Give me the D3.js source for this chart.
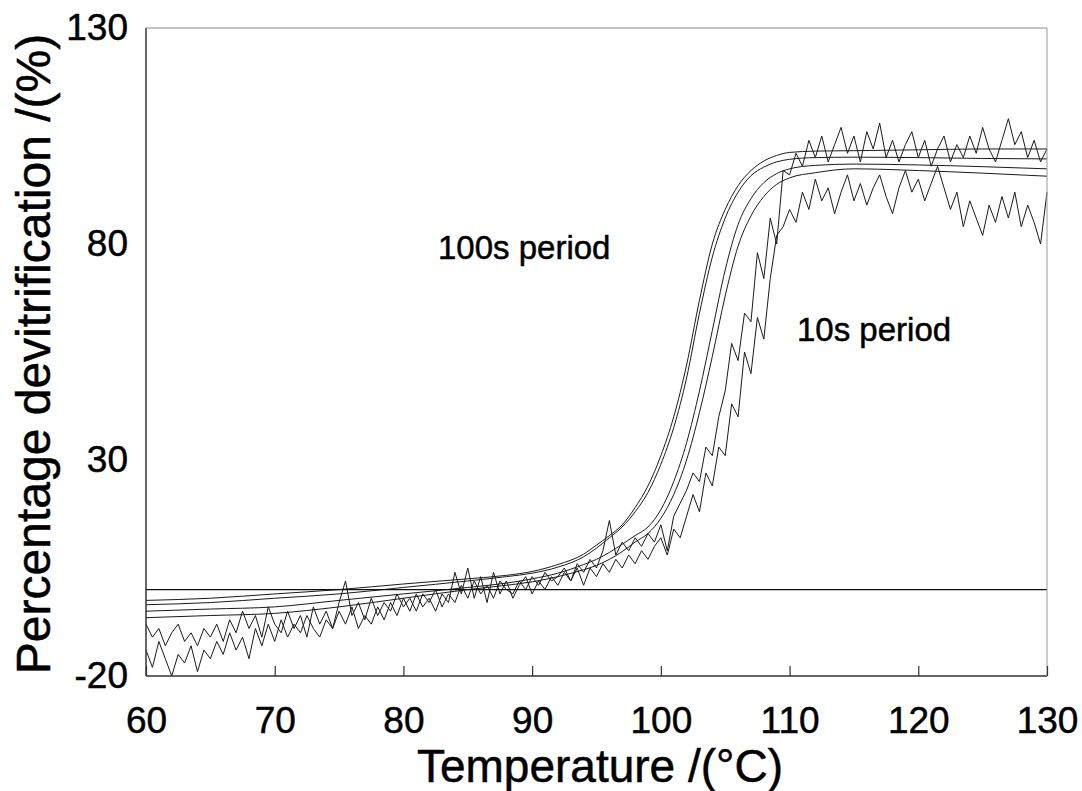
<!DOCTYPE html>
<html>
<head>
<meta charset="utf-8">
<style>
body { margin: 0; background: #fff; }
text { font-family: "Liberation Sans", Arial, sans-serif; fill: #000; stroke: #000; stroke-width: 0.5px; }
.curves path { fill: none; stroke: #1a1a1a; stroke-width: 1; }
</style>
</head>
<body>
<svg width="1082" height="791"></svg>
<script src="https://cdn.jsdelivr.net/npm/d3@7/dist/d3.min.js"></script>
<script>

// tick values
var xTicks = [60, 70, 80, 90, 100, 110, 120, 130];
var yTicks = [-20, 30, 80, 130];

// temperature grid of the smoothed (fitted) runs
var smoothT = [60, 65, 70, 75, 80, 85, 88, 90, 92, 94, 95, 96, 97, 98, 99, 100,
  101, 102, 103, 104, 105, 106, 107, 108, 109, 110, 112, 115, 120, 125, 130];

var run1 = [-2.5, -2, -1, 0, 1.3, 2.5, 3.3, 4.2, 5.8, 8.2, 10.3, 12.5, 15, 19, 24, 31,
  40, 52, 67, 80, 88, 93.5, 97, 99.2, 100.5, 101.2, 101.5, 101.6, 101.8, 102, 102];
var run2 = [-3.5, -3, -2, -1, 0.5, 2, 3, 3.8, 5.2, 7.6, 9.6, 12, 14.5, 18, 22.5, 29,
  37.5, 49, 64, 77, 86, 92, 95.8, 97.8, 99, 99.6, 100, 100.1, 100, 99.8, 99.7];
var run3 = [-5, -4.5, -4, -2.5, -1, 0.5, 1.5, 2.5, 3.8, 5.8, 7, 8.6, 10.5, 12.5, 14.5, 18.5,
  25, 34, 46, 60, 74, 84.5, 90.5, 94.2, 96.3, 97.4, 98.2, 98.5, 98.3, 97.9, 97.4];
var run4 = [-6.5, -6, -5.5, -4, -2, 0, 1, 1.8, 3, 4.6, 5.6, 7, 8.8, 11, 13, 16.5,
  22, 30, 41, 54, 68, 79.5, 86.5, 91, 93.8, 95.3, 96.5, 97.4, 97, 96.4, 95.7];

// temperature grid of the raw (noisy) 10 s runs
var rawT = [
  60, 60.5, 61, 61.5, 62, 62.5, 63, 63.5, 64, 64.5,
  65, 65.5, 66, 66.5, 67, 67.5, 68, 68.5, 69, 69.5,
  70, 70.5, 71, 71.5, 72, 72.5, 73, 73.5, 74, 74.5,
  75, 75.5, 76, 76.5, 77, 77.5, 78, 78.5, 79, 79.5,
  80, 80.5, 81, 81.5, 82, 82.5, 83, 83.5, 84, 84.5,
  85, 85.5, 86, 86.5, 87, 87.5, 88, 88.5, 89, 89.5,
  90, 90.5, 91, 91.5, 92, 92.5, 93, 93.5, 94, 94.5,
  95, 95.5, 96, 96.5, 97, 97.5, 98, 98.5, 99, 99.5,
  100, 100.5, 101, 101.5, 102, 102.5, 103, 103.5, 104, 104.5,
  105, 105.5, 106, 106.5, 107, 107.5, 108, 108.5, 109, 109.5,
  110, 110.5, 111, 111.5, 112, 112.5, 113, 113.5, 114, 114.5,
  115, 115.5, 116, 116.5, 117, 117.5, 118, 118.5, 119, 119.5,
  120, 120.5, 121, 121.5, 122, 122.5, 123, 123.5, 124, 124.5,
  125, 125.5, 126, 126.5, 127, 127.5, 128, 128.5, 129, 129.5,
  130];

var raw1 = [
  -8, -11, -9, -13, -10, -8, -12, -10, -13, -9,
  -11, -8, -12, -7, -10, -5, -9, -6, -11, -4,
  -8, -10, -5, -9, -6, -11, -4, -8, -5, -9,
  -3, 2, -6, -3, -7, -2, -6, -3, -5, -1,
  -4, -2, -5, -1, -3, 0, -4, -1, -3, 1,
  -2, 2, -1, 1, -2, 2, 0, -1, 2, 0,
  3, 1, 4, 2, 3, 5, 2, 6, 4, 7,
  5, 9, 16, 8, 11, 9, 12, 10, 13, 11,
  15, 9, 17, 20, 23, 27, 25, 33, 31, 40,
  46, 57, 53, 64, 62, 78, 72, 86, 80, 97,
  96, 101, 98, 104, 100, 105, 99, 103, 107, 101,
  105, 99, 106, 102, 108, 100, 104, 99, 103, 106,
  100, 104, 98, 102, 105, 99, 103, 100, 105, 101,
  107, 102, 99, 104, 109, 103, 106, 100, 104, 99,
  102];

var raw2 = [
  -14, -18, -12, -16, -20, -15, -17, -13, -19, -14,
  -16, -12, -15, -10, -14, -11, -16, -9, -13, -8,
  -12, -7, -11, -8, -10, -6, -9, -11, -7, -9,
  -5, -8, -4, -9, -6, -8, -4, -7, -3, -6,
  -2, -5, -1, -4, -2, -5, -1, -3, 4, -1,
  5, -2, 3, -3, 4, -1, 2, -2, 1, 3,
  -1, 2, 0, 3, 1, 4, 2, 5, 1, 5,
  3, 6, 4, 7, 5, 8, 6, 9, 7, 10,
  12, 8, 14, 12, 17, 22, 18, 27, 24, 33,
  31, 43, 40, 55, 50, 63, 58, 72, 82, 84,
  88, 85, 92, 88, 95, 90, 93, 87, 92, 96,
  90, 94, 89, 93, 96, 91, 87, 93, 97, 92,
  95, 90, 94, 98, 93, 88, 92, 84, 90, 86,
  82, 89, 85, 91, 86, 92, 84, 89, 85, 80,
  92];

var smoothRuns = [run1, run2, run3, run4];
var rawRuns = [raw1, raw2];

var svg = d3.select("svg"),
    plotLeft = 146, plotRight = 1047, plotTop = 28, plotBottom = 676;

var x = d3.scaleLinear().domain([60, 130]).range([plotLeft, plotRight]);
var y = d3.scaleLinear().domain([-20, 130]).range([plotBottom, plotTop]);

// curves
var g = svg.append("g").attr("class", "curves");

var smoothLine = d3.line()
    .x(function(d, i) { return x(smoothT[i]); })
    .y(function(d) { return y(d); })
    .curve(d3.curveMonotoneX);

var rawLine = d3.line()
    .x(function(d, i) { return x(rawT[i]); })
    .y(function(d) { return y(d); });

g.selectAll("path.smooth")
  .data(smoothRuns)
  .enter().append("path")
    .attr("class", "smooth")
    .attr("d", smoothLine);

g.selectAll("path.raw")
  .data(rawRuns)
  .enter().append("path")
    .attr("class", "raw")
    .attr("stroke-width", 0.9)
    .attr("d", rawLine);

// zero baseline
svg.append("line")
    .attr("x1", x(60)).attr("x2", x(130))
    .attr("y1", y(0)).attr("y2", y(0))
    .attr("stroke", "#111").attr("stroke-width", 1.3);

// frame
svg.append("line").attr("x1", plotLeft).attr("x2", plotLeft).attr("y1", plotTop).attr("y2", plotBottom)
    .attr("stroke", "#333").attr("stroke-width", 1.5);
svg.append("line").attr("x1", plotLeft).attr("x2", plotRight).attr("y1", plotBottom).attr("y2", plotBottom)
    .attr("stroke", "#333").attr("stroke-width", 1.5);
svg.append("line").attr("x1", plotLeft).attr("x2", plotRight).attr("y1", plotTop).attr("y2", plotTop)
    .attr("stroke", "#888").attr("stroke-width", 1);
svg.append("line").attr("x1", plotRight).attr("x2", plotRight).attr("y1", plotTop).attr("y2", plotBottom)
    .attr("stroke", "#999").attr("stroke-width", 1);

// axes (plain hyphen for negatives, as in the original)
var fmt = function(d) { return String(d); };

svg.append("g")
    .attr("class", "axis")
    .attr("transform", "translate(0," + plotBottom + ")")
    .call(d3.axisBottom(x).tickValues(xTicks).tickSize(-10).tickPadding(31).tickFormat(fmt));

svg.append("g")
    .attr("class", "axis")
    .attr("transform", "translate(" + plotLeft + ",0)")
    .call(d3.axisLeft(y).tickValues(yTicks).tickSize(0).tickPadding(18).tickFormat(fmt));

svg.selectAll(".axis .domain").remove();
svg.selectAll(".axis line").attr("stroke", "#333").attr("stroke-width", 1.2);
svg.selectAll(".axis text")
    .attr("font-size", 37)
    .attr("font-family", "'Liberation Sans', Arial, sans-serif")
    .attr("fill", "#000");

// axis titles
svg.append("text")
    .attr("x", 600).attr("y", 782)
    .attr("text-anchor", "middle")
    .attr("font-size", 46)
    .text("Temperature /(°C)");

svg.append("text")
    .attr("transform", "translate(50,354) rotate(-90)")
    .attr("text-anchor", "middle")
    .attr("font-size", 48)
    .text("Percentage devitrification /(%)");

// annotations
svg.append("text")
    .attr("x", 438).attr("y", 259)
    .attr("font-size", 33)
    .text("100s period");

svg.append("text")
    .attr("x", 797).attr("y", 341)
    .attr("font-size", 33)
    .text("10s period");

</script>
</body>
</html>
